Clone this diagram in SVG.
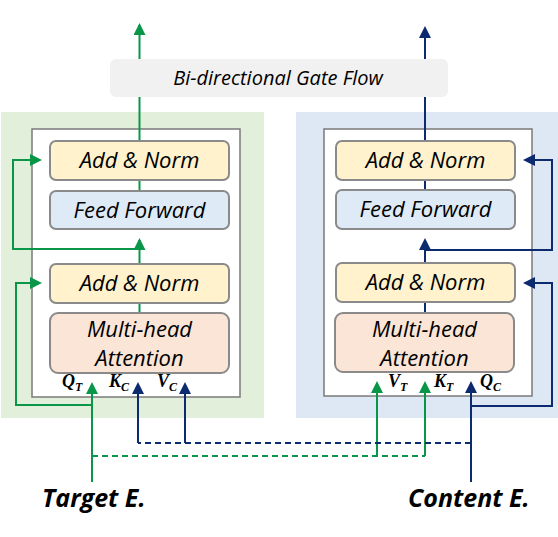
<svg xmlns="http://www.w3.org/2000/svg" width="558" height="537" viewBox="0 0 558 537">
<style>
.box{stroke:#8a8a8a;stroke-width:2}
.an{fill:#fff2cc}
.ff{fill:#deebf7}
.mh{fill:#fbe5d6}
.t{font-family:"Open Sans","Liberation Sans",sans-serif;font-style:italic;font-size:22px;fill:#000;text-anchor:middle}
.g{stroke:#0a9648;stroke-width:2;fill:none}
.b{stroke:#0c2a6e;stroke-width:2;fill:none}
.d{stroke-dasharray:6,4}
.lab{font-family:"Liberation Serif",serif;font-style:italic;font-weight:bold;font-size:18px;fill:#000}
.sub{font-size:12px}
.big{font-family:"Open Sans","Liberation Sans",sans-serif;font-style:italic;font-weight:bold;font-size:25px;fill:#000}
</style>
<defs>
<marker id="ag" markerUnits="userSpaceOnUse" markerWidth="12" markerHeight="12" viewBox="0 0 12 12" refX="10" refY="6" orient="auto"><path d="M0,0 L12,6 L0,12 Z" fill="#0a9648"/></marker>
<marker id="ab" markerUnits="userSpaceOnUse" markerWidth="12" markerHeight="12" viewBox="0 0 12 12" refX="10" refY="6" orient="auto"><path d="M0,0 L12,6 L0,12 Z" fill="#0c2a6e"/></marker>
</defs>
<g id="panels">
<rect x="1" y="112" width="263" height="306" fill="#e2efda"/>
<rect x="296" y="112" width="262" height="306" fill="#dee8f4"/>
<rect x="32" y="129" width="208" height="268" fill="#fff" stroke="#7a7a7a" stroke-width="1.5"/>
<rect x="324" y="129" width="208" height="267" fill="#fff" stroke="#7a7a7a" stroke-width="1.5"/>
</g>
<g id="connectors">
<path class="g" d="M139.5 141 V25" marker-end="url(#ag)"/>
<path class="g" d="M139.5 180 V191"/>
<path class="g" d="M139.5 263 V240" marker-end="url(#ag)"/>
<path class="g" d="M139.5 249 H13 V160 H40" marker-end="url(#ag)"/>
<path class="g" d="M139.5 303 V313"/>
<path class="g" d="M92 482 V384" marker-end="url(#ag)"/>
<path class="g" d="M92 405 H16 V283 H40" marker-end="url(#ag)"/>
<path class="g d" d="M92 456 H425"/>
<path class="g" d="M377 456 V383" marker-end="url(#ag)"/>
<path class="g" d="M425 456 V383" marker-end="url(#ag)"/>
<path class="b" d="M425 141 V28" marker-end="url(#ab)"/>
<path class="b" d="M425 180 V190"/>
<path class="b" d="M425 263 V240" marker-end="url(#ab)"/>
<path class="b" d="M425 250 H552 V160 H525" marker-end="url(#ab)"/>
<path class="b" d="M425 302 V313"/>
<path class="b" d="M471 482 V383" marker-end="url(#ab)"/>
<path class="b" d="M471 406 H552 V283 H525" marker-end="url(#ab)"/>
<path class="b d" d="M471 443 H138"/>
<path class="b" d="M138 443 V384" marker-end="url(#ab)"/>
<path class="b" d="M185 443 V384" marker-end="url(#ab)"/>
</g>
<g id="gate">
<rect x="110" y="59" width="338" height="38" rx="6" fill="#f1f1f1"/>
<text x="278" y="85" class="t" style="font-size:20px">Bi-directional Gate Flow</text>
</g>
<g id="t-addnorm2">
<rect class="box an" x="50" y="141" width="179" height="39" rx="6"/>
<text x="139.5" y="168" class="t">Add &amp; Norm</text>
</g>
<g id="t-ff">
<rect class="box ff" x="50" y="191" width="179" height="38" rx="6"/>
<text x="139.5" y="218" class="t">Feed Forward</text>
</g>
<g id="t-addnorm1">
<rect class="box an" x="50" y="264" width="179" height="39" rx="6"/>
<text x="139.5" y="291" class="t">Add &amp; Norm</text>
</g>
<g id="t-mha">
<rect class="box mh" x="50" y="313" width="179" height="60" rx="8"/>
<text x="139.5" y="337" class="t">Multi-head</text>
<text x="139.5" y="366" class="t">Attention</text>
</g>
<g id="c-addnorm2">
<rect class="box an" x="336" y="141" width="179" height="39" rx="6"/>
<text x="425.5" y="168" class="t">Add &amp; Norm</text>
</g>
<g id="c-ff">
<rect class="box ff" x="336" y="190" width="179" height="39" rx="6"/>
<text x="425.5" y="217" class="t">Feed Forward</text>
</g>
<g id="c-addnorm1">
<rect class="box an" x="336" y="263" width="179" height="39" rx="6"/>
<text x="425.5" y="290" class="t">Add &amp; Norm</text>
</g>
<g id="c-mha">
<rect class="box mh" x="335" y="313" width="179" height="59" rx="8"/>
<text x="424.5" y="337" class="t">Multi-head</text>
<text x="424.5" y="366" class="t">Attention</text>
</g>
<g id="labels">
<text x="62" y="387" class="lab">Q<tspan class="sub" dy="4">T</tspan></text>
<text x="109" y="387" class="lab">K<tspan class="sub" dy="4">C</tspan></text>
<text x="157" y="387" class="lab">V<tspan class="sub" dy="4">C</tspan></text>
<text x="388" y="387" class="lab">V<tspan class="sub" dy="4">T</tspan></text>
<text x="434" y="387" class="lab">K<tspan class="sub" dy="4">T</tspan></text>
<text x="480" y="387" class="lab">Q<tspan class="sub" dy="4">C</tspan></text>
</g>
<g id="target">
<text x="42" y="507" class="big">Target E.</text>
</g>
<g id="content">
<text x="408" y="507" class="big">Content E.</text>
</g>
</svg>
